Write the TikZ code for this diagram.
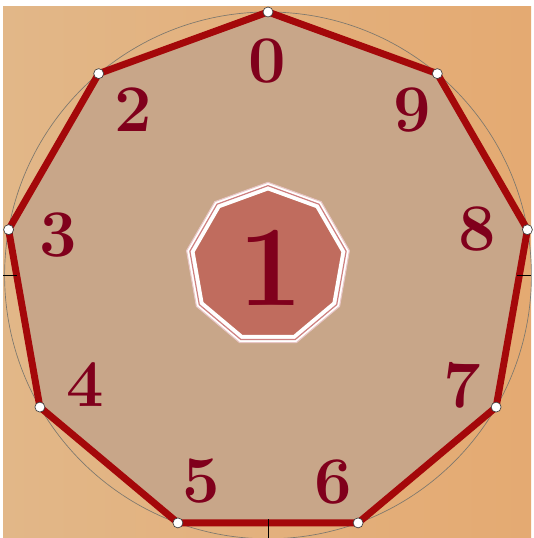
\documentclass[tikz,border=0pt]{standalone}
\usepackage{xcolor}
\definecolor{bgleft}{RGB}{226,183,136}
\definecolor{bgright}{RGB}{228,170,114}
\definecolor{facetan}{RGB}{200,166,137}
\definecolor{rimred}{RGB}{164,8,10}
\definecolor{digitred}{RGB}{128,0,28}
\definecolor{coinfill}{RGB}{192,108,94}
\definecolor{coinline}{RGB}{206,128,128}
\definecolor{ringgray}{RGB}{125,120,110}
\usepackage{tikz}
\usetikzlibrary{shapes.geometric,calc}

\begin{document}
\begin{tikzpicture}[
  x=0.75pt,y=0.75pt,
  digit/.style={text=digitred,font=\fontsize{50}{50}\selectfont\bfseries,inner sep=0pt},
  vdot/.style={circle,draw=black!75,fill=white,inner sep=0pt,minimum size=7.5pt,line width=0.5pt},
  rim/.style={draw=rimred,line width=5.2pt,line join=round},
  axtick/.style={black,line width=0.5pt},
  nona/.style={regular polygon,regular polygon sides=9,inner sep=0pt}
]
\useasboundingbox (0,0) rectangle (533,538);
\shade[left color=bgleft,right color=bgright] (3,0) rectangle (531,531);
\coordinate (o) at (268,262.6);
% corners of the big nonagon
\foreach \k in {0,...,8}
  \coordinate (c\k) at ($(o)+(90+40*\k:263.4)$);
\fill[facetan] (c0) -- (c1) -- (c2) -- (c3) -- (c4) -- (c5) -- (c6) -- (c7) -- (c8) -- cycle;
\draw[ringgray,line width=0.5pt] (o) circle (263.4);
\draw[rim] (c0) -- (c1) -- (c2) -- (c3) -- (c4) -- (c5) -- (c6) -- (c7) -- (c8) -- cycle;
\draw[axtick] ($(o)+(-265,0)$) -- ($(o)+(-251,0)$);
\draw[axtick] ($(o)+(249,0)$) -- ($(o)+(263,0)$);
\draw[axtick] ($(o)+(0,-262.6)$) -- ($(o)+(0,-243.6)$);
\foreach \k in {0,...,8}
  \node[vdot] (v\k) at (c\k) {};
% digits round the rim
\node[digit] (d0) at (267,477) {0};
\node[digit] (d2) at (133,428) {2};
\node[digit] (d3) at (58,303) {3};
\node[digit] (d4) at (85,153) {4};
\node[digit] (d5) at (201,57) {5};
\node[digit] (d6) at (333,56) {6};
\node[digit] (d7) at (462,153) {7};
\node[digit] (d8) at (477,309) {8};
\node[digit] (d9) at (412,428) {9};
% the coin in the middle
\node[nona,minimum size=124pt,fill=white,draw=coinline!45,line width=0.8pt] (coin) at (268,273) {};
\node[nona,minimum size=119pt,draw=coinline,line width=0.9pt] (ring) at (coin.center) {};
\node[nona,minimum size=113pt,fill=coinfill,draw=white,line width=1.2pt] (face) at (coin.center) {};
\node[digit,font=\fontsize{86}{86}\selectfont\bfseries] (d1) at (271,270) {1};
\end{tikzpicture}
\end{document}
